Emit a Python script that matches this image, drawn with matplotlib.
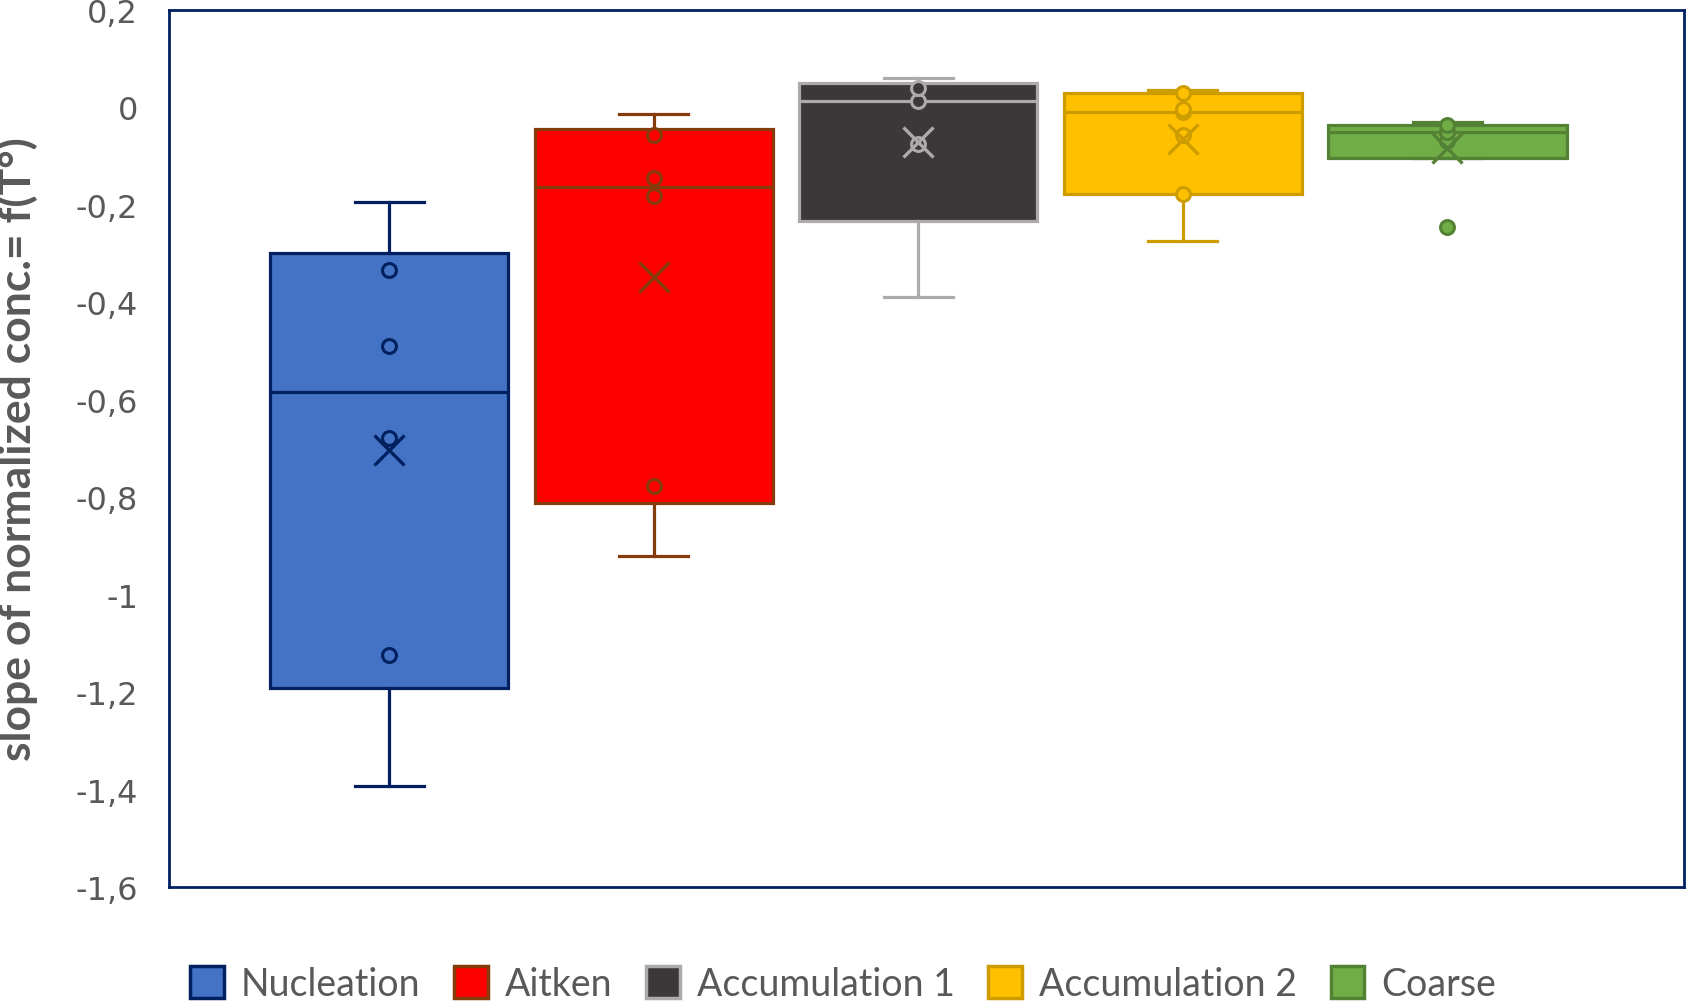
import numpy as np
import matplotlib.pyplot as plt
from matplotlib.patches import Patch

# series values
series = ['Nucleation', 'Aitken', 'Accumulation 1', 'Accumulation 2', 'Coarse']
nucleation = [-0.195, -0.334, -0.49, -0.678, -1.124, -1.393]
aitken = [-0.014, -0.056, -0.146, -0.182, -0.777, -0.921]
accumulation1 = [0.060, 0.040, 0.012, -0.075, -0.390]
accumulation2 = [0.035, 0.029, -0.004, -0.009, -0.058, -0.178, -0.275]
coarse = [-0.031, -0.036, -0.050, -0.050, -0.069, -0.105, -0.246]
data = [nucleation, aitken, accumulation1, accumulation2, coarse]

fills = ['#4472C4', '#FF0000', '#3A3838', '#FFC000', '#70AD47']
edges = ['#002060', '#843C0C', '#AEAAAA', '#CC9C00', '#548235']
yticks = [0.2, 0, -0.2, -0.4, -0.6, -0.8, -1, -1.2, -1.4, -1.6]

plt.rcParams['font.family'] = ['Lato', 'DejaVu Sans']


# statistiques comme Excel (quartiles exclusifs)
def stats_excel(valeurs, nom):
    v = np.sort(np.array(valeurs))
    q1, med, q3 = np.percentile(v, [25, 50, 75], method='weibull')
    iqr = q3 - q1
    dedans = v[(v >= q1 - 1.5 * iqr) & (v <= q3 + 1.5 * iqr)]
    fliers = v[(v < q1 - 1.5 * iqr) | (v > q3 + 1.5 * iqr)]
    return dict(med=med, q1=q1, q3=q3, whislo=dedans.min(), whishi=dedans.max(),
                mean=v.mean(), fliers=fliers, label=nom), dedans


fig = plt.figure(figsize=(16.86, 10.04), dpi=100)
ax = fig.add_axes([0.1001, 0.1155, 0.8987, 0.8738])

for i, (vals, nom) in enumerate(zip(data, series)):
    st, dedans = stats_excel(vals, nom)
    lw = 2.3
    ax.bxp([st], positions=[i], widths=0.9, patch_artist=True, showfliers=True,
           capwidths=[0.26],
           boxprops=dict(facecolor=fills[i], edgecolor=edges[i], linewidth=lw),
           medianprops=dict(color=edges[i], linewidth=lw),
           whiskerprops=dict(color=edges[i], linewidth=lw),
           capprops=dict(color=edges[i], linewidth=lw),
           flierprops=dict(marker='o', markerfacecolor=fills[i], markeredgecolor=edges[i],
                           markersize=10, markeredgewidth=2.2))
    # points interieurs (sans les extremites des moustaches)
    inner = [x for x in dedans if st['whislo'] < x < st['whishi']]
    ax.plot([i] * len(inner), inner, 'o', markerfacecolor=fills[i], markeredgecolor=edges[i],
            markersize=10, markeredgewidth=2.2, zorder=4)
    # moyenne
    ax.plot(i, st['mean'], 'x', color=edges[i], markersize=22, markeredgewidth=2.4, zorder=5)

ax.set_xlim(-0.833, 4.894)
ax.set_ylim(-1.6, 0.2)
ax.set_xticks([])
ax.set_yticks(yticks)
ax.set_yticklabels([('%g' % round(t, 1)).replace('.', ',') for t in yticks],
                   family='DejaVu Sans')
ax.tick_params(axis='y', length=0, pad=22, labelsize=23, labelcolor='#595959')
for s in ax.spines.values():
    s.set_color('#002060')
    s.set_linewidth(2)

ax.set_ylabel('slope of normalized conc.= f(T°)', fontsize=32, fontweight='bold',
              color='#595959')
ax.yaxis.set_label_coords(-0.086, 0.5)

handles = [Patch(facecolor=f, edgecolor=e, linewidth=2.5) for f, e in zip(fills, edges)]
fig.legend(handles, series, loc='center', bbox_to_anchor=(0.5, 0.019), ncol=5,
           frameon=False, fontsize=27, labelcolor='#595959', handlelength=0.9,
           handleheight=0.9, handletextpad=0.45, columnspacing=0.9)

fig.savefig('out.png', dpi=100)
